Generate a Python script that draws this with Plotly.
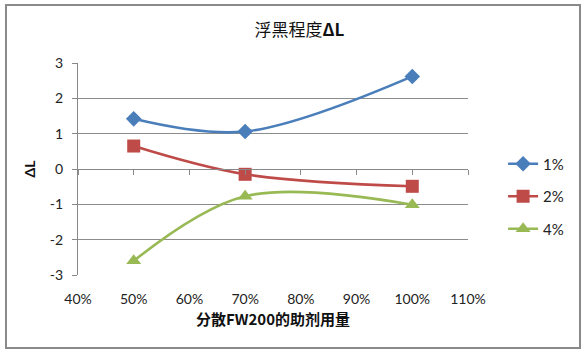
import plotly.graph_objects as go

x_vals = [0.5, 0.7, 1.0]
series_names = ["1%", "2%", "4%"]
s1 = [1.42, 1.06, 2.62]
s2 = [0.65, -0.15, -0.49]
s3 = [-2.6, -0.77, -1.01]
x_ticks = [0.4, 0.5, 0.6, 0.7, 0.8, 0.9, 1.0, 1.1]
x_tick_labels = ["40%", "50%", "60%", "70%", "80%", "90%", "100%", "110%"]
y_ticks = [-3, -2, -1, 0, 1, 2, 3]
y_tick_labels = ["-3", "-2", "-1", "0", "1", "2", "3"]

colors = ["#4A7EBB", "#BE4B48", "#98B954"]
symbols = ["diamond", "square", "triangle-up"]
msizes = [12, 13, 13]

fig = go.Figure()
for i, (name, ys) in enumerate(zip(series_names, [s1, s2, s3])):
    fig.add_trace(go.Scatter(
        x=x_vals, y=ys, name=name, mode="lines+markers",
        line=dict(color=colors[i], width=2.6, shape="spline", smoothing=1),
        marker=dict(symbol=symbols[i], size=msizes[i], color=colors[i]),
        legendgroup=name,
    ))

font_main = "Lato, 'Noto Sans CJK SC', sans-serif"
cjk = "'Noto Sans CJK SC', sans-serif"

fig.update_layout(
    width=587, height=353,
    margin=dict(l=78, r=119, t=63, b=78),
    paper_bgcolor="white", plot_bgcolor="white",
    font=dict(family=font_main, size=14, color="#222"),
    title=dict(text="浮黑程度<b>ΔL</b>", x=0.51, xanchor="center", y=0.915, yanchor="middle",
               font=dict(family=cjk, size=17, color="#111")),
    xaxis=dict(range=[0.4, 1.1], tickvals=x_ticks, ticktext=x_tick_labels,
               showgrid=False, zeroline=False, showline=False, ticks="",
               ticklabelstandoff=14,
               tickfont=dict(size=14, color="#222"),
               title=dict(text="<b>分散FW200的助剂用量</b>", font=dict(family=cjk, size=15, color="#111"), standoff=8)),
    xaxis2=dict(range=[0.4, 1.1], tickvals=x_ticks, showticklabels=False,
                overlaying="x", anchor="free", position=0.5, side="bottom",
                showgrid=False, zeroline=False, showline=True, linecolor="#888", linewidth=1,
                ticks="outside", ticklen=5, tickcolor="#888"),
    yaxis=dict(range=[-3, 3], tickvals=y_ticks, ticktext=y_tick_labels,
               showgrid=True, gridcolor="#8c8c8c", gridwidth=1,
               zeroline=False, showline=True, linecolor="#888", linewidth=1,
               ticks="outside", ticklen=5, tickcolor="#888", ticklabelstandoff=6,
               tickfont=dict(size=14, color="#222"),
               title=dict(text="<b>ΔL</b>", font=dict(size=14, color="#111"), standoff=10)),
    legend=dict(x=1.09, y=0.37, xanchor="left", yanchor="middle",
                traceorder="grouped", tracegroupgap=10,
                font=dict(size=15, color="#222"), bgcolor="rgba(0,0,0,0)"),
    shapes=[dict(type="rect", xref="paper", yref="paper",
                 x0=(6 - 78) / 390, x1=(580 - 78) / 390,
                 y0=(275 - 348) / 212, y1=(275 - 5) / 212,
                 line=dict(color="#8a8a8a", width=2), fillcolor="rgba(0,0,0,0)", layer="below")],
)
fig.add_trace(go.Scatter(x=[0.4], y=[0], xaxis="x2", mode="markers", marker=dict(opacity=0),
                         showlegend=False, hoverinfo="skip"))

fig.write_html("out.html")
